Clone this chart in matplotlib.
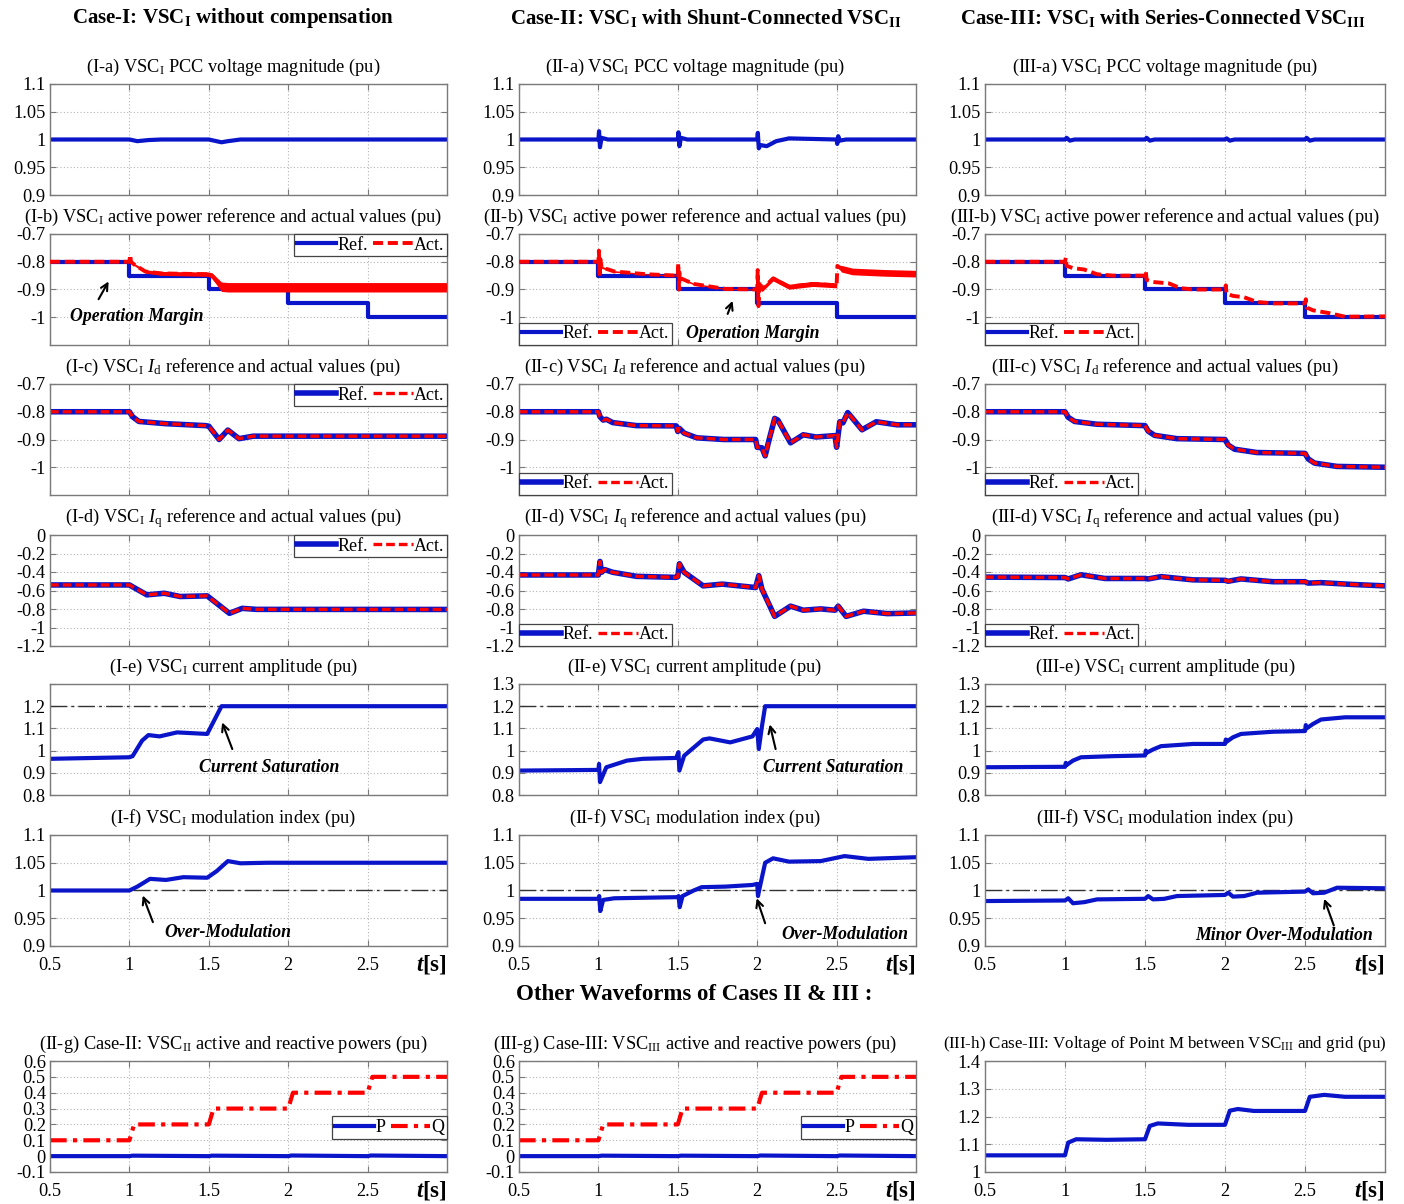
import matplotlib
matplotlib.use("Agg")
import matplotlib.pyplot as plt

plt.rcParams['font.family'] = ['Liberation Serif', 'DejaVu Serif']
plt.rcParams['mathtext.fontset'] = 'custom'
plt.rcParams['mathtext.rm'] = 'Liberation Serif'
plt.rcParams['mathtext.it'] = 'Liberation Serif:italic'
plt.rcParams['mathtext.bf'] = 'Liberation Serif:bold'
plt.rcParams['mathtext.sf'] = 'Liberation Serif:italic:bold'

# ---------------- DATA ----------------
x_ticks = [0.5, 1, 1.5, 2, 2.5]
x_ticklabels = ['0.5', '1', '1.5', '2', '2.5']

# (a) PCC voltage magnitude
t_va1 = [0.5, 1.0, 1.05, 1.12, 1.2, 1.5, 1.58, 1.62, 1.7, 3.0]
v_va1 = [1.0, 1.0, 0.997, 0.999, 1.0, 1.0, 0.995, 0.997, 1.0, 1.0]
t_va2 = [0.5, 1.0, 1.004, 1.01, 1.02, 1.06, 1.5, 1.504, 1.51, 1.52, 1.56, 2.0, 2.004, 2.01,
         2.02, 2.06, 2.12, 2.2, 2.5, 2.504, 2.51, 2.52, 2.56, 3.0]
v_va2 = [1.0, 1.0, 1.015, 0.986, 1.003, 1.0, 1.0, 1.013, 0.988, 1.003, 1.0, 1.0, 1.012, 0.984,
         0.99, 0.988, 0.997, 1.002, 1.0, 0.992, 1.006, 0.998, 1.0, 1.0]
t_va3 = [0.5, 1.0, 1.01, 1.03, 1.06, 1.5, 1.51, 1.53, 1.56, 2.0, 2.01, 2.03, 2.06, 2.5, 2.51, 2.53, 2.56, 3.0]
v_va3 = [1.0, 1.0, 1.003, 0.998, 1.0, 1.0, 1.003, 0.998, 1.0, 1.0, 1.002, 0.998, 1.0, 1.0, 1.003, 0.998, 1.0, 1.0]

# (b) active power reference (steps) and actual values
t_pref = [0.5, 1.0, 1.5, 2.0, 2.5, 3.0]
v_pref = [-0.8, -0.85, -0.9, -0.95, -1.0, -1.0]

t_pb1 = [0.5, 1.0, 1.005, 1.01, 1.03, 1.1, 1.2, 1.5, 1.52, 1.58, 1.62, 3.0]
v_pb1 = [-0.8, -0.8, -0.775, -0.80, -0.81, -0.835, -0.842, -0.845, -0.85, -0.89, -0.892, -0.892]
r_pb1 = [0.0, 0.0, 0.0, 0.0, 0.004, 0.006, 0.007, 0.008, 0.01, 0.017, 0.017, 0.017]

t_pb2 = [0.5, 1.0, 1.003, 1.008, 1.012, 1.02, 1.1, 1.3, 1.5, 1.503, 1.508, 1.512, 1.52, 1.6, 1.8,
         2.0, 2.003, 2.008, 2.015, 2.03, 2.1, 2.2, 2.35, 2.5, 2.505, 2.53, 2.6, 2.8, 3.0]
v_pb2 = [-0.8, -0.8, -0.76, -0.855, -0.79, -0.82, -0.835, -0.845, -0.85, -0.805, -0.9, -0.84, -0.86,
         -0.88, -0.898, -0.9, -0.83, -0.96, -0.87, -0.9, -0.86, -0.89, -0.88, -0.885, -0.815, -0.825,
         -0.835, -0.84, -0.843]
r_pb2 = [0.0, 0.0, 0.0, 0.0, 0.0, 0.004, 0.003, 0.002, 0.002, 0.0, 0.0, 0.0, 0.004, 0.003, 0.002,
         0.002, 0.0, 0.0, 0.0, 0.008, 0.009, 0.009, 0.009, 0.009, 0.0, 0.012, 0.012, 0.012, 0.012]

t_pb3 = [0.5, 1.0, 1.005, 1.01, 1.05, 1.12, 1.2, 1.3, 1.5, 1.505, 1.51, 1.55, 1.65, 1.72, 1.8, 2.0,
         2.005, 2.01, 2.05, 2.12, 2.2, 2.3, 2.5, 2.505, 2.51, 2.55, 2.65, 2.75, 3.0]
v_pb3 = [-0.8, -0.8, -0.785, -0.815, -0.823, -0.828, -0.845, -0.85, -0.85, -0.835, -0.865, -0.873,
         -0.878, -0.895, -0.9, -0.9, -0.885, -0.915, -0.923, -0.928, -0.945, -0.95, -0.95, -0.935,
         -0.965, -0.975, -0.985, -0.998, -0.997]

# (c) Id reference / actual (overlapping)
t_id1 = [0.5, 1.0, 1.02, 1.06, 1.23, 1.48, 1.5, 1.565, 1.62, 1.69, 1.78, 3.0]
v_id1 = [-0.8, -0.8, -0.818, -0.835, -0.843, -0.85, -0.852, -0.9, -0.866, -0.897, -0.888, -0.888]
t_id2 = [0.5, 1.0, 1.01, 1.03, 1.05, 1.09, 1.24, 1.49, 1.5, 1.51, 1.54, 1.62, 1.79, 1.99, 2.0,
         2.03, 2.05, 2.07, 2.11, 2.13, 2.21, 2.29, 2.37, 2.49, 2.5, 2.52, 2.54, 2.57, 2.66, 2.75, 2.88, 3.0]
v_id2 = [-0.8, -0.8, -0.818, -0.83, -0.827, -0.839, -0.85, -0.851, -0.871, -0.86, -0.877, -0.894,
         -0.9, -0.9, -0.928, -0.93, -0.959, -0.912, -0.824, -0.83, -0.912, -0.883, -0.891, -0.886,
         -0.928, -0.836, -0.84, -0.803, -0.865, -0.836, -0.847, -0.847]
t_id3 = [0.5, 1.0, 1.02, 1.06, 1.2, 1.5, 1.52, 1.56, 1.7, 2.0, 2.02, 2.06, 2.2, 2.5, 2.52, 2.56, 2.7, 3.0]
v_id3 = [-0.8, -0.8, -0.82, -0.835, -0.845, -0.85, -0.87, -0.885, -0.897, -0.9, -0.92, -0.935,
         -0.947, -0.95, -0.97, -0.985, -0.997, -1.0]

# (d) Iq reference / actual (overlapping)
t_iq1 = [0.5, 1.0, 1.11, 1.22, 1.32, 1.49, 1.63, 1.71, 1.8, 3.0]
v_iq1 = [-0.54, -0.54, -0.647, -0.63, -0.665, -0.658, -0.847, -0.793, -0.804, -0.805]
t_iq2 = [0.5, 1.0, 1.01, 1.02, 1.04, 1.09, 1.24, 1.49, 1.5, 1.51, 1.54, 1.66, 1.78, 1.99, 2.01,
         2.03, 2.11, 2.21, 2.29, 2.4, 2.49, 2.51, 2.56, 2.67, 2.82, 3.0]
v_iq2 = [-0.432, -0.432, -0.286, -0.403, -0.374, -0.403, -0.447, -0.458, -0.45, -0.311, -0.403,
         -0.55, -0.531, -0.568, -0.44, -0.586, -0.88, -0.769, -0.813, -0.799, -0.813, -0.769, -0.88,
         -0.824, -0.85, -0.843]
t_iq3 = [0.5, 1.0, 1.02, 1.1, 1.25, 1.5, 1.52, 1.6, 1.8, 2.0, 2.02, 2.1, 2.3, 2.5, 2.52, 2.6, 2.8, 3.0]
v_iq3 = [-0.455, -0.46, -0.475, -0.43, -0.47, -0.47, -0.475, -0.45, -0.485, -0.49, -0.5, -0.475,
         -0.505, -0.505, -0.52, -0.515, -0.535, -0.55]

# (e) current amplitude
t_ie1 = [0.5, 1.0, 1.02, 1.08, 1.12, 1.19, 1.3, 1.49, 1.58, 3.0]
v_ie1 = [0.963, 0.97, 0.975, 1.045, 1.07, 1.064, 1.082, 1.075, 1.2, 1.2]
t_ie2 = [0.5, 1.0, 1.004, 1.01, 1.05, 1.18, 1.28, 1.49, 1.504, 1.51, 1.54, 1.66, 1.7, 1.83, 1.97,
         2.0, 2.01, 2.03, 2.05, 3.0]
v_ie2 = [0.91, 0.913, 0.94, 0.858, 0.925, 0.955, 0.963, 0.967, 0.993, 0.91, 0.977, 1.05, 1.055,
         1.037, 1.064, 1.097, 1.007, 1.11, 1.2, 1.2]
t_ie3 = [0.5, 1.0, 1.005, 1.01, 1.05, 1.1, 1.3, 1.5, 1.505, 1.51, 1.55, 1.6, 1.8, 2.0, 2.005, 2.01,
         2.05, 2.1, 2.3, 2.5, 2.505, 2.51, 2.55, 2.6, 2.75, 3.0]
v_ie3 = [0.925, 0.927, 0.945, 0.935, 0.955, 0.97, 0.975, 0.978, 1.0, 0.99, 1.005, 1.02, 1.03, 1.03,
         1.05, 1.04, 1.06, 1.075, 1.085, 1.088, 1.115, 1.1, 1.12, 1.14, 1.15, 1.15]
i_limit = 1.2

# (f) modulation index
t_mf1 = [0.5, 1.0, 1.05, 1.13, 1.23, 1.34, 1.49, 1.55, 1.62, 1.7, 1.87, 3.0]
v_mf1 = [1.0, 1.0, 1.007, 1.021, 1.019, 1.024, 1.023, 1.035, 1.053, 1.049, 1.05, 1.05]
t_mf2 = [0.5, 1.0, 1.005, 1.012, 1.03, 1.1, 1.5, 1.505, 1.512, 1.53, 1.6, 1.65, 1.8, 1.97, 2.0,
         2.005, 2.012, 2.05, 2.1, 2.2, 2.4, 2.55, 2.7, 3.0]
v_mf2 = [0.985, 0.985, 0.99, 0.963, 0.983, 0.986, 0.988, 0.99, 0.97, 0.99, 1.0, 1.006, 1.007, 1.01,
         1.012, 0.99, 1.0, 1.05, 1.058, 1.052, 1.053, 1.062, 1.057, 1.06]
t_mf3 = [0.5, 1.0, 1.02, 1.05, 1.12, 1.2, 1.5, 1.52, 1.55, 1.62, 1.7, 2.0, 2.02, 2.05, 2.12, 2.2,
         2.5, 2.52, 2.55, 2.62, 2.7, 3.0]
v_mf3 = [0.981, 0.982, 0.986, 0.977, 0.979, 0.984, 0.985, 0.99, 0.984, 0.985, 0.99, 0.992, 0.996,
         0.989, 0.99, 0.996, 0.998, 1.002, 0.995, 0.996, 1.005, 1.004]
m_limit = 1.0

# (g) compensator P and Q
t_q = [0.5, 1.0, 1.03, 1.5, 1.53, 2.0, 2.03, 2.5, 2.53, 3.0]
v_q = [0.1, 0.1, 0.2, 0.2, 0.3, 0.3, 0.4, 0.4, 0.5, 0.5]
t_p = [0.5, 1.0, 1.02, 1.5, 1.52, 2.0, 2.02, 2.5, 2.52, 3.0]
v_p = [0.0, 0.0, 0.003, 0.0, 0.003, 0.0, 0.004, 0.0, 0.004, 0.0]

# (h) voltage of point M
t_vm = [0.5, 1.0, 1.02, 1.07, 1.26, 1.5, 1.53, 1.58, 1.77, 2.0, 2.03, 2.08, 2.18, 2.5, 2.53, 2.62, 2.75, 3.0]
v_vm = [1.06, 1.06, 1.106, 1.118, 1.116, 1.118, 1.166, 1.175, 1.17, 1.17, 1.221, 1.227, 1.22, 1.22,
        1.271, 1.278, 1.271, 1.271]

# ---------------- STYLE / LAYOUT ----------------
W, H = 1404, 1204
BLUE = '#0a14c8'
RED = '#ff0000'
FS = 13.2      # titles
TFS = 13.2     # tick labels
LFS = 13       # legend
AFS = 12.8     # annotations
col_l = [50, 519, 985]
col_r = [447, 916, 1385]
title_x = [0.461, 0.443, 0.45]
row_top = [84, 234, 384, 535, 684, 835]
bottom_top = 1061
AH = 111

fig = plt.figure(figsize=(W / 100, H / 100), dpi=100)


def make_ax(c, top):
    l = col_l[c] / W
    w = (col_r[c] - col_l[c]) / W
    b = 1 - (top + AH) / H
    ax = fig.add_axes([l, b, w, AH / H])
    ax.set_xlim(0.5, 3.0)
    ax.set_xticks(x_ticks)
    ax.grid(True, linestyle=(0, (1, 2)), color='#b5b5b5', lw=0.8)
    for s in ax.spines.values():
        s.set_color('#7a7a7a')
        s.set_linewidth(1.0)
    ax.tick_params(direction='in', length=4, color='#7a7a7a', labelsize=TFS,
                   top=True, right=True)
    ax.tick_params(axis='y', pad=3)
    ax.tick_params(axis='x', pad=8)
    ax.set_axisbelow(True)
    return ax


def set_y(ax, ymin, ymax, ticks, labels):
    ax.set_ylim(ymin, ymax)
    ax.set_yticks(ticks)
    ax.set_yticklabels(labels)


def x_labels(ax, show):
    if show:
        ax.set_xticklabels(x_ticklabels)
        ax.text(1.0, -0.06, r'$\mathsf{t}$[s]', transform=ax.transAxes, ha='right', va='top',
                fontsize=16.5, fontweight='bold')
    else:
        ax.set_xticklabels([])


def title(ax, c, txt, fs=FS):
    ax.set_title(txt, fontsize=fs, x=title_x[c], pad=9)


def legend(ax, handles, loc, labels, bbox=None):
    kw = dict(loc=loc, ncol=2, fontsize=LFS, frameon=True, fancybox=False, framealpha=1,
              edgecolor='#444444', borderaxespad=0, handlelength=2.2, handletextpad=0.05,
              columnspacing=0.3, borderpad=0.15, labelspacing=0.2)
    if bbox is not None:
        kw['bbox_to_anchor'] = bbox
    lg = ax.legend(handles, labels, **kw)
    lg.get_frame().set_linewidth(0.9)
    return lg


def annot(ax, txt, xy, xytext_arrow, xytext):
    ax.annotate('', xy=xy, xytext=xytext_arrow,
                arrowprops=dict(arrowstyle='->,head_length=0.5,head_width=0.25', lw=1.5,
                                color='black', shrinkA=0, shrinkB=0))
    ax.text(xytext[0], xytext[1], txt, fontsize=AFS, fontweight='bold', fontstyle='italic',
            ha='center', va='center')


case_names = ['I', 'II', 'III']

# column headers
HFS = 15
fig.text(233 / W, 1 - 18 / H, r'Case-I: VSC$_\mathbf{I}$ without compensation',
         ha='center', va='center', fontsize=HFS, fontweight='bold')
fig.text(706 / W, 1 - 18 / H, r'Case-II: VSC$_\mathbf{I}$ with Shunt-Connected VSC$_\mathbf{II}$',
         ha='center', va='center', fontsize=HFS, fontweight='bold')
fig.text(1163 / W, 1 - 18 / H, r'Case-III: VSC$_\mathbf{I}$ with Series-Connected VSC$_\mathbf{III}$',
         ha='center', va='center', fontsize=HFS, fontweight='bold')
fig.text(694 / W, 1 - 994 / H, 'Other Waveforms of Cases II & III :', ha='center', va='center',
         fontsize=16.5, fontweight='bold')

va_data = [(t_va1, v_va1), (t_va2, v_va2), (t_va3, v_va3)]
pb_data = [(t_pb1, v_pb1, r_pb1), (t_pb2, v_pb2, r_pb2), (t_pb3, v_pb3, None)]
id_data = [(t_id1, v_id1), (t_id2, v_id2), (t_id3, v_id3)]
iq_data = [(t_iq1, v_iq1), (t_iq2, v_iq2), (t_iq3, v_iq3)]
ie_data = [(t_ie1, v_ie1), (t_ie2, v_ie2), (t_ie3, v_ie3)]
mf_data = [(t_mf1, v_mf1), (t_mf2, v_mf2), (t_mf3, v_mf3)]
leg_loc = ['upper right', 'lower left', 'lower left']

dashdot = (0, (12, 3, 2, 3))
act_dash = (0, (2.6, 1.2))

for c in range(3):
    n = case_names[c]
    # (a)
    ax = make_ax(c, row_top[0])
    ax.plot(va_data[c][0], va_data[c][1], color=BLUE, lw=3)
    set_y(ax, 0.9, 1.1, [0.9, 0.95, 1, 1.05, 1.1], ['0.9', '0.95', '1', '1.05', '1.1'])
    x_labels(ax, False)
    title(ax, c, '(%s-a) VSC$_\\mathrm{I}$ PCC voltage magnitude (pu)' % n)

    # (b)
    ax = make_ax(c, row_top[1])
    tb, vb, rb = pb_data[c]
    l1, = ax.plot(t_pref, v_pref, color=BLUE, lw=3, drawstyle='steps-post')
    if rb is not None:
        lo = [v - r for v, r in zip(vb, rb)]
        hi = [v + r for v, r in zip(vb, rb)]
        ax.fill_between(tb, lo, hi, color=RED, lw=0, zorder=2.5)
    l2, = ax.plot(tb, vb, color=RED, lw=2.8, linestyle=act_dash, zorder=3)
    set_y(ax, -1.1, -0.7, [-1, -0.9, -0.8, -0.7], ['-1', '-0.9', '-0.8', '-0.7'])
    x_labels(ax, False)
    title(ax, c, '(%s-b) VSC$_\\mathrm{I}$ active power reference and actual values (pu)' % n)
    legend(ax, [l1, l2], leg_loc[c], ['Ref.', 'Act.'])
    if c == 0:
        annot(ax, 'Operation Margin', (0.869, -0.871), (0.806, -0.935), (1.046, -0.999))
    if c == 1:
        annot(ax, 'Operation Margin', (1.845, -0.941), (1.814, -0.988), (1.97, -1.058))

    # (c)
    ax = make_ax(c, row_top[2])
    l1, = ax.plot(id_data[c][0], id_data[c][1], color=BLUE, lw=4)
    l2, = ax.plot(id_data[c][0], id_data[c][1], color=RED, lw=2.4, linestyle=act_dash)
    set_y(ax, -1.1, -0.7, [-1, -0.9, -0.8, -0.7], ['-1', '-0.9', '-0.8', '-0.7'])
    x_labels(ax, False)
    title(ax, c, '(%s-c) VSC$_\\mathrm{I}$ $I_\\mathrm{d}$ reference and actual values (pu)' % n)
    legend(ax, [l1, l2], leg_loc[c], ['Ref.', 'Act.'])

    # (d)
    ax = make_ax(c, row_top[3])
    l1, = ax.plot(iq_data[c][0], iq_data[c][1], color=BLUE, lw=4)
    l2, = ax.plot(iq_data[c][0], iq_data[c][1], color=RED, lw=2.4, linestyle=act_dash)
    set_y(ax, -1.2, 0, [-1.2, -1, -0.8, -0.6, -0.4, -0.2, 0],
          ['-1.2', '-1', '-0.8', '-0.6', '-0.4', '-0.2', '0'])
    x_labels(ax, False)
    title(ax, c, '(%s-d) VSC$_\\mathrm{I}$ $I_\\mathrm{q}$ reference and actual values (pu)' % n)
    legend(ax, [l1, l2], leg_loc[c], ['Ref.', 'Act.'])

    # (e)
    ax = make_ax(c, row_top[4])
    ax.axhline(i_limit, color='#333333', lw=1.0, linestyle=dashdot, zorder=1.5)
    ax.plot(ie_data[c][0], ie_data[c][1], color=BLUE, lw=3)
    top_lab = '' if c == 0 else '1.3'
    set_y(ax, 0.8, 1.3, [0.8, 0.9, 1, 1.1, 1.2, 1.3], ['0.8', '0.9', '1', '1.1', '1.2', top_lab])
    x_labels(ax, False)
    title(ax, c, '(%s-e) VSC$_\\mathrm{I}$ current amplitude (pu)' % n)
    if c == 0:
        annot(ax, 'Current Saturation', (1.584, 1.127), (1.648, 1.007), (1.88, 0.926))
    if c == 1:
        annot(ax, 'Current Saturation', (2.079, 1.118), (2.116, 1.007), (2.48, 0.926))

    # (f)
    ax = make_ax(c, row_top[5])
    ax.axhline(m_limit, color='#333333', lw=1.0, linestyle=dashdot, zorder=1.5)
    ax.plot(mf_data[c][0], mf_data[c][1], color=BLUE, lw=3)
    set_y(ax, 0.9, 1.1, [0.9, 0.95, 1, 1.05, 1.1], ['0.9', '0.95', '1', '1.05', '1.1'])
    x_labels(ax, True)
    title(ax, c, '(%s-f) VSC$_\\mathrm{I}$ modulation index (pu)' % n)
    if c == 0:
        annot(ax, 'Over-Modulation', (1.084, 0.991), (1.148, 0.943), (1.62, 0.925))
    if c == 1:
        annot(ax, 'Over-Modulation', (1.997, 0.986), (2.05, 0.941), (2.55, 0.92))
    if c == 2:
        annot(ax, 'Minor Over-Modulation', (2.62, 0.985), (2.68, 0.937), (2.37, 0.919))

# bottom row
g_titles = [r'(II-g) Case-II: VSC$_\mathrm{II}$ active and reactive powers (pu)',
            r'(III-g) Case-III: VSC$_\mathrm{III}$ active and reactive powers (pu)']
for c in range(2):
    ax = make_ax(c, bottom_top)
    l1, = ax.plot(t_p, v_p, color=BLUE, lw=3)
    l2, = ax.plot(t_q, v_q, color=RED, lw=3, linestyle=(0, (4, 1.5, 1, 1.5)))
    set_y(ax, -0.1, 0.6, [-0.1, 0, 0.1, 0.2, 0.3, 0.4, 0.5, 0.6],
          ['-0.1', '0', '0.1', '0.2', '0.3', '0.4', '0.5', '0.6'])
    x_labels(ax, True)
    title(ax, c, g_titles[c])
    legend(ax, [l1, l2], 'center right', ['P', 'Q'], bbox=(1.0, 0.4))

ax = make_ax(2, bottom_top)
ax.plot(t_vm, v_vm, color=BLUE, lw=3)
set_y(ax, 1.0, 1.4, [1, 1.1, 1.2, 1.3, 1.4], ['1', '1.1', '1.2', '1.3', '1.4'])
x_labels(ax, True)
title(ax, 2, r'(III-h) Case-III: Voltage of Point M between VSC$_\mathrm{III}$ and grid (pu)', fs=12.2)

fig.savefig('out.png', dpi=100, facecolor='white')
